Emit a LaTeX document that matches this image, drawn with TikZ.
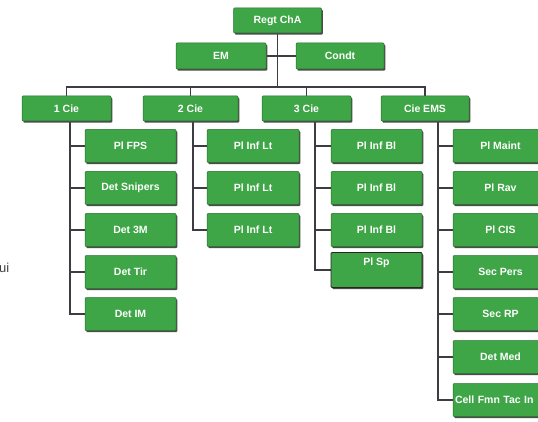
\documentclass[tikz,border=0pt]{standalone}
\usepackage{fontspec}
\setmainfont{Liberation Sans}
\usetikzlibrary{shadows}
\pgfdeclarelayer{bg}
\pgfdeclarelayer{lines}
\pgfsetlayers{bg,lines,main}
\definecolor{boxgreen}{RGB}{62,166,70}
\definecolor{boxedge}{RGB}{40,110,45}
\definecolor{linecol}{RGB}{60,60,66}
\tikzset{
  box/.style={rectangle, rounded corners=1pt, fill=boxgreen, draw=boxedge, line width=0.5pt,
    text=white, font=\fontsize{10.5}{11}\selectfont\bfseries, inner sep=2pt,
    drop shadow={shadow xshift=1.3pt, shadow yshift=-1.6pt, fill=black!70, opacity=1}},
  top/.style={box, minimum height=25pt},
  kid/.style={box, minimum height=33pt},
  conn/.style={draw=linecol, line width=1.4pt}
}
\begin{document}
\begin{tikzpicture}[x=1pt,y=-1pt]
\useasboundingbox (0,0) rectangle (538,422);
\begin{pgfonlayer}{bg}
\fill[white] (0,0) rectangle (538,422);
\end{pgfonlayer}
\clip (0,0) rectangle (538,422);

% side text
\node[anchor=base west, inner sep=0pt, text=black!75, font=\fontsize{13}{14}\selectfont] (ui) at (-1,272) {ui};

% connector coordinates
\coordinate (bar) at (0,87);
\coordinate (v1) at (70,121);
\coordinate (v2) at (193,121);
\coordinate (v3) at (315,121);
\coordinate (v4) at (438,121);

% top levels
\node[top, minimum width=88pt] (r) at (277.5,20.5) {Regt ChA};
\node[top, minimum width=90pt, minimum height=26pt] (em) at (221,56) {EM};
\node[top, minimum width=88pt, minimum height=26pt] (condt) at (340,56) {Condt};

\node[top, minimum width=89pt] (c1) at (66.5,108.5) {1 Cie};
\node[top, minimum width=95pt] (c2) at (190.5,108.5) {2 Cie};
\node[top, minimum width=89pt] (c3) at (306.5,108.5) {3 Cie};
\node[top, minimum width=88pt] (c4) at (425,108.5) {Cie EMS};

% 1 Cie
\node[kid, minimum width=91pt] (k11) at (130.5,146) {Pl FPS};
\node[kid, minimum width=91pt] (k12) at (130.5,188) {Det Snipers};
\node[kid, minimum width=91pt] (k13) at (130.5,230) {Det 3M};
\node[kid, minimum width=91pt] (k14) at (130.5,272) {Det Tir};
\node[kid, minimum width=91pt] (k15) at (130.5,314) {Det IM};

% 2 Cie
\node[kid, minimum width=92pt] (k21) at (253,146) {Pl Inf Lt};
\node[kid, minimum width=92pt] (k22) at (253,188) {Pl Inf Lt};
\node[kid, minimum width=92pt] (k23) at (253,230) {Pl Inf Lt};

% 3 Cie
\node[kid, minimum width=91pt] (k31) at (376.5,146) {Pl Inf Bl};
\node[kid, minimum width=91pt] (k32) at (376.5,188) {Pl Inf Bl};
\node[kid, minimum width=91pt] (k33) at (376.5,230) {Pl Inf Bl};
\node[kid, minimum width=91pt, minimum height=35pt, draw=black!85, line width=0.8pt] (k34) at (376.5,270) {};
\node[text=white, font=\fontsize{10.5}{11}\selectfont\bfseries, anchor=north, inner sep=0pt] (k34t) at ([yshift=-6pt]k34.north) {Pl Sp};

% Cie EMS
\node[kid, minimum width=95pt] (k41) at (500.5,146) {Pl Maint};
\node[kid, minimum width=95pt] (k42) at (500.5,188) {Pl Rav};
\node[kid, minimum width=95pt] (k43) at (500.5,230) {Pl CIS};
\node[kid, minimum width=95pt] (k44) at (500.5,272) {Sec Pers};
\node[kid, minimum width=95pt] (k45) at (500.5,314) {Sec RP};
\node[kid, minimum width=95pt] (k46) at (500.5,357) {Det Med};
\node[kid, minimum width=95pt, text width=91pt, align=left, inner sep=2pt] (k47) at (500.5,400) {Cell Fmn Tac In};

% connectors
\begin{pgfonlayer}{lines}
\draw[conn] (r.south) -- (r.south |- bar);
\draw[conn] (em.east) -- (condt.west);
\draw[conn] (c1.north) -- (c1.north |- bar) -- (c4.north |- bar) -- (c4.north);
\draw[conn] (c2.north) -- (c2.north |- bar);
\draw[conn] (c3.north) -- (c3.north |- bar);
\foreach \k in {k11,k12,k13,k14,k15} \draw[conn] (v1) |- (\k.west);
\foreach \k in {k21,k22,k23} \draw[conn] (v2) |- (\k.west);
\foreach \k in {k31,k32,k33,k34} \draw[conn] (v3) |- (\k.west);
\foreach \k in {k41,k42,k43,k44,k45,k46,k47} \draw[conn] (v4) |- (\k.west);
\end{pgfonlayer}
\end{tikzpicture}
\end{document}
